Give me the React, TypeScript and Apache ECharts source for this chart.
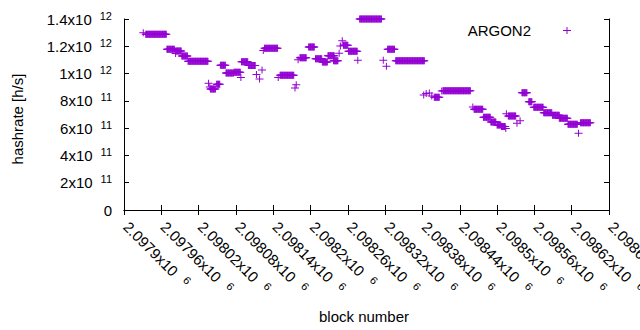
import React, { useEffect, useRef } from "react";
import * as echarts from "echarts";

// Hashrate estimates per block, read from the picture as runs of blocks that share one value.
const runFirstBlock = [
  2097931, 2097935, 2097969, 2097983, 2097983, 2097993, 2098003, 2098036, 2098038, 2098039,
  2098049, 2098055, 2098064, 2098077, 2098088, 2098089, 2098100, 2098113, 2098118, 2098122,
  2098124, 2098126, 2098148, 2098151, 2098175, 2098177, 2098180, 2098183, 2098197, 2098208,
  2098219, 2098228, 2098237, 2098246, 2098248, 2098251, 2098253, 2098261, 2098276, 2098279,
  2098317, 2098322, 2098324, 2098337, 2098382, 2098386, 2098391, 2098395, 2098399, 2098411,
  2098413, 2098461, 2098463, 2098478, 2098490, 2098500, 2098507, 2098514, 2098515, 2098518,
  2098532, 2098537, 2098540, 2098551, 2098559, 2098575, 2098589, 2098600, 2098614, 2098631,
  2098634,
];
const runLastBlock = [
  2097931, 2097968, 2097981, 2097983, 2097992, 2098002, 2098035, 2098036, 2098038, 2098047,
  2098054, 2098063, 2098076, 2098087, 2098088, 2098099, 2098111, 2098113, 2098118, 2098122,
  2098124, 2098147, 2098148, 2098173, 2098175, 2098177, 2098180, 2098193, 2098206, 2098218,
  2098227, 2098238, 2098244, 2098246, 2098248, 2098251, 2098260, 2098275, 2098276, 2098314,
  2098317, 2098322, 2098335, 2098383, 2098382, 2098386, 2098391, 2098395, 2098407, 2098411,
  2098457, 2098461, 2098477, 2098489, 2098498, 2098506, 2098513, 2098514, 2098515, 2098530,
  2098532, 2098537, 2098548, 2098556, 2098574, 2098588, 2098600, 2098613, 2098629, 2098631,
  2098650,
];
// values in GH/s (1e9 h/s)
const runHashrateGHs = [
  1300, 1288, 1178, 1147, 1165, 1129, 1090, 929, 902, 886,
  921, 1061, 1004, 1009, 971, 1087, 1059, 993, 960, 1026,
  1169, 1186, 971, 987, 894, 918, 1102, 1116, 1195, 1109,
  1085, 1131, 1094, 1149, 1202, 1240, 1207, 1163, 1097, 1400,
  1097, 1053, 1178, 1094, 843, 854, 858, 836, 826, 872,
  874, 755, 738, 680, 645, 623, 612, 597, 705, 689,
  635, 655, 860, 794, 753, 713, 694, 672, 628, 562,
  640,
];

const seriesName = "ARGON2";
const xTitle = "block number";
const yTitle = "hashrate [h/s]";
const xMin = 2097900;
const xMax = 2098680;
const xStep = 60;
const yMin = 0;
const yMax = 1.4e12;
const yStep = 2e11;

const FONT = "'Liberation Sans', Arial, sans-serif";
const PURPLE = "#9400d3";
const PLUS = "path://M0,3H8V4H0ZM3.5,0H4.5V7H3.5Z";

function buildPoints(): number[][] {
  const pts: number[][] = [];
  for (let i = 0; i < runFirstBlock.length; i++) {
    for (let b = runFirstBlock[i]; b <= runLastBlock[i]; b++) {
      pts.push([b, runHashrateGHs[i] * 1e9]);
    }
  }
  return pts;
}

function sciLabel(v: number): string {
  if (v === 0) return "{a|0}";
  const e = Math.floor(Math.log10(v) + 1e-9);
  const m = parseFloat((v / Math.pow(10, e)).toPrecision(7));
  return `{a|${m}x10}{b|${e}}`;
}

const richY = {
  a: { fontSize: 15, lineHeight: 18, color: "#000", fontFamily: FONT },
  b: {
    fontSize: 11,
    lineHeight: 12,
    verticalAlign: "top",
    color: "#000",
    fontFamily: FONT,
    padding: [0, 0, 0, 8],
  },
};
const richX = {
  a: { fontSize: 15, lineHeight: 18, color: "#000", fontFamily: FONT, padding: [0, 0, 0, 3] },
  b: {
    fontSize: 11,
    lineHeight: 15,
    verticalAlign: "top",
    color: "#000",
    fontFamily: FONT,
    padding: [0, 0, 0, 10],
  },
};

export default function App() {
  const ref = useRef<HTMLDivElement>(null);
  useEffect(() => {
    if (!ref.current) return;
    const chart = echarts.init(ref.current, undefined, { renderer: "svg" });
    const axisLine = { show: true, lineStyle: { color: "#000", width: 1 } };
    const axisTick = { show: true, inside: true, length: 5, lineStyle: { color: "#000", width: 1 } };
    chart.setOption({
      animation: false,
      backgroundColor: "#fff",
      grid: { left: 124, right: 31, top: 19, bottom: 120, containLabel: false, outerBoundsMode: "none" },
      legend: {
        show: true,
        right: 69,
        top: 23,
        padding: 0,
        align: "right",
        itemWidth: 8,
        itemHeight: 7,
        formatter: (n: string) => `{t|${n}}`,
        textStyle: {
          fontSize: 15,
          color: "#000",
          fontFamily: FONT,
          rich: {
            t: { fontSize: 15, lineHeight: 17, color: "#000", fontFamily: FONT, padding: [0, 27, 0, 0] },
          },
        },
        data: [{ name: seriesName, icon: PLUS }],
      },
      xAxis: [
        {
          type: "value",
          position: "bottom",
          min: xMin,
          max: xMax,
          interval: xStep,
          axisLine,
          axisTick,
          splitLine: { show: false },
          axisLabel: {
            rotate: -45,
            margin: 12,
            showMinLabel: true,
            showMaxLabel: true,
            formatter: (v: number) => sciLabel(v),
            rich: richX,
          },
        },
        {
          type: "value",
          position: "top",
          min: xMin,
          max: xMax,
          interval: xStep,
          axisLine,
          axisTick,
          splitLine: { show: false },
          axisLabel: { show: false },
        },
      ],
      yAxis: [
        {
          type: "value",
          position: "left",
          min: yMin,
          max: yMax,
          interval: yStep,
          axisLine,
          axisTick,
          splitLine: { show: false },
          axisLabel: {
            margin: 12,
            formatter: (v: number) => sciLabel(v),
            rich: richY,
          },
        },
        {
          type: "value",
          position: "right",
          min: yMin,
          max: yMax,
          interval: yStep,
          axisLine,
          axisTick,
          splitLine: { show: false },
          axisLabel: { show: false },
        },
      ],
      graphic: [
        {
          type: "text",
          x: 364,
          y: 316,
          style: {
            text: xTitle,
            fontSize: 15,
            fontFamily: FONT,
            fill: "#000",
            align: "center",
            verticalAlign: "middle",
            textAlign: "center",
            textVerticalAlign: "middle",
          },
        },
        {
          type: "text",
          x: 17.5,
          y: 119,
          rotation: Math.PI / 2,
          style: {
            text: yTitle,
            fontSize: 15,
            fontFamily: FONT,
            fill: "#000",
            align: "center",
            verticalAlign: "middle",
            textAlign: "center",
            textVerticalAlign: "middle",
          },
        },
      ],
      series: [
        {
          name: seriesName,
          type: "scatter",
          xAxisIndex: 0,
          yAxisIndex: 0,
          symbol: PLUS,
          symbolSize: [8, 7],
          clip: false,
          silent: true,
          itemStyle: { color: PURPLE, opacity: 1 },
          data: buildPoints(),
        },
      ],
    });
    return () => chart.dispose();
  }, []);
  return (
    <div
      ref={ref}
      style={{ position: "fixed", left: 0, top: 0, width: 640, height: 330, background: "#fff" }}
    />
  );
}
